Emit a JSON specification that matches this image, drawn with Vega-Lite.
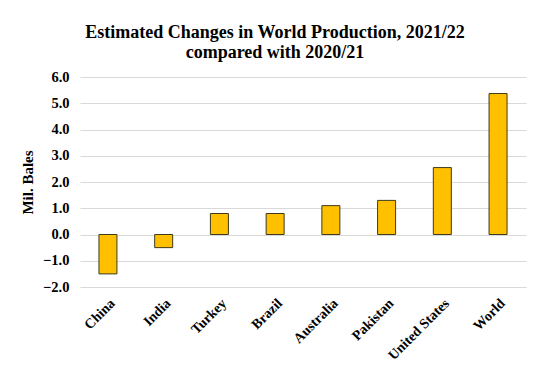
{
  "$schema": "https://vega.github.io/schema/vega-lite/v6.json",
  "width": 446,
  "height": 210,
  "autosize": "none",
  "padding": {"left": 80, "top": 77, "right": 24, "bottom": 98},
  "background": "white",
  "title": {
    "text": ["Estimated Changes in World Production, 2021/22", "compared with 2020/21"],
    "font": "Liberation Serif",
    "fontSize": 18,
    "fontWeight": "bold",
    "color": "#000000",
    "anchor": "middle",
    "dx": -28,
    "offset": 7,
    "lineHeight": 20
  },
  "data": {
    "values": [
      {"country": "China", "change": -1.5},
      {"country": "India", "change": -0.5},
      {"country": "Turkey", "change": 0.8},
      {"country": "Brazil", "change": 0.8},
      {"country": "Australia", "change": 1.1},
      {"country": "Pakistan", "change": 1.3},
      {"country": "United States", "change": 2.55},
      {"country": "World", "change": 5.37}
    ]
  },
  "mark": {"type": "bar", "color": "#FFC000", "stroke": "#3d3a1e", "strokeWidth": 1},
  "encoding": {
    "x": {
      "field": "country",
      "type": "nominal",
      "sort": null,
      "scale": {"paddingInner": 0.677, "paddingOuter": 0.34},
      "axis": {
        "title": null,
        "labelAngle": -45,
        "labelFont": "Liberation Serif",
        "labelFontSize": 14,
        "labelFontWeight": "bold",
        "labelColor": "#000000",
        "domain": false,
        "ticks": false,
        "labelPadding": 9,
        "grid": false
      }
    },
    "y": {
      "field": "change",
      "type": "quantitative",
      "scale": {"domain": [-2, 6], "nice": false},
      "axis": {
        "title": "Mil. Bales",
        "titleFont": "Liberation Serif",
        "titleFontSize": 15,
        "titleFontWeight": "bold",
        "titleColor": "#000000",
        "titlePadding": 7,
        "values": [-2, -1, 0, 1, 2, 3, 4, 5, 6],
        "format": ".1f",
        "labelFont": "Liberation Serif",
        "labelFontSize": 14.5,
        "labelFontWeight": "bold",
        "labelColor": "#000000",
        "labelPadding": 11,
        "domain": false,
        "ticks": false,
        "grid": true,
        "gridColor": "#d9d9d9",
        "gridWidth": 1
      }
    }
  },
  "config": {
    "view": {"stroke": null}
  }
}
